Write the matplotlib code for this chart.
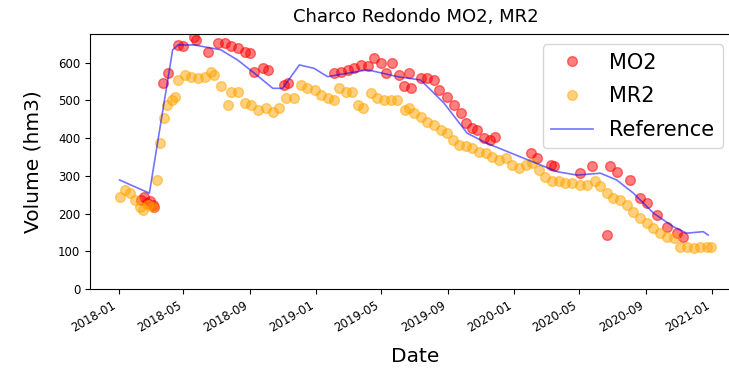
"""Charco Redondo reservoir volume: MO2 and MR2 estimates against the reference series."""

import matplotlib
matplotlib.use("Agg")
import matplotlib.dates as mdates
import matplotlib.pyplot as plt
import pandas as pd

REF_DATES = [
    "2018-01-03", "2018-02-27", "2018-04-11", "2018-04-21", "2018-05-21",
    "2018-07-09", "2018-08-09", "2018-09-09", "2018-10-13", "2018-10-31",
    "2018-12-01", "2018-12-28", "2019-01-22", "2019-04-06", "2019-05-31",
    "2019-07-13", "2019-08-25", "2019-10-07", "2019-11-13", "2020-01-19",
    "2020-03-21", "2020-04-27", "2020-06-09", "2020-07-09", "2020-08-09",
    "2020-09-15", "2020-10-22", "2020-11-15", "2020-12-16", "2020-12-25",
]
REF_VOL = [
    289, 254, 634, 647, 647,
    634, 607, 572, 532, 532,
    594, 585, 563, 581, 563,
    554, 493, 413, 386, 347,
    311, 302, 307, 289, 254,
    201, 165, 148, 152, 143,
]

MO2_DATES = [
    "2018-02-12", "2018-02-18", "2018-02-23", "2018-03-01", "2018-03-05",
    "2018-03-08", "2018-03-24", "2018-04-03", "2018-04-21", "2018-04-30",
    "2018-05-21", "2018-05-25", "2018-06-15", "2018-07-04", "2018-07-16",
    "2018-07-28", "2018-08-09", "2018-08-22", "2018-08-31", "2018-09-09",
    "2018-09-25", "2018-10-04", "2018-11-03", "2018-11-10", "2019-02-03",
    "2019-02-16", "2019-02-28", "2019-03-12", "2019-03-25", "2019-04-06",
    "2019-04-18", "2019-04-30", "2019-05-10", "2019-05-22", "2019-06-03",
    "2019-06-12", "2019-06-22", "2019-06-25", "2019-07-13", "2019-07-25",
    "2019-08-07", "2019-08-16", "2019-08-31", "2019-09-12", "2019-09-25",
    "2019-10-04", "2019-10-16", "2019-10-26", "2019-11-07", "2019-11-19",
    "2019-11-28", "2020-02-01", "2020-02-13", "2020-03-09", "2020-03-15",
    "2020-05-03", "2020-05-24", "2020-06-21", "2020-06-27", "2020-07-09",
    "2020-08-03", "2020-08-21", "2020-09-03", "2020-09-21", "2020-10-10",
    "2020-10-28", "2020-11-09",
]
MO2_VOL = [
    236, 244, 228, 232, 222,
    218, 546, 572, 647, 643,
    669, 660, 629, 652, 652,
    643, 638, 629, 625, 576,
    585, 581, 541, 546, 572,
    576, 581, 585, 594, 590,
    612, 599, 572, 599, 568,
    537, 572, 532, 559, 559,
    554, 528, 510, 488, 466,
    440, 426, 422, 399, 395,
    404, 360, 347, 329, 325,
    307, 325, 143, 325, 311,
    289, 240, 227, 196, 165,
    148, 139,
]

MR2_DATES = [
    "2018-01-03", "2018-01-13", "2018-01-22", "2018-01-31", "2018-02-09",
    "2018-02-15", "2018-02-25", "2018-03-06", "2018-03-14", "2018-03-18",
    "2018-03-26", "2018-04-01", "2018-04-09", "2018-04-16", "2018-04-21",
    "2018-05-03", "2018-05-15", "2018-05-28", "2018-06-09", "2018-06-21",
    "2018-06-27", "2018-07-10", "2018-07-22", "2018-07-28", "2018-08-09",
    "2018-08-22", "2018-09-03", "2018-09-15", "2018-10-01", "2018-10-13",
    "2018-10-25", "2018-11-06", "2018-11-22", "2018-12-04", "2018-12-16",
    "2018-12-29", "2019-01-10", "2019-01-22", "2019-02-03", "2019-02-13",
    "2019-02-25", "2019-03-09", "2019-03-19", "2019-03-28", "2019-04-12",
    "2019-04-24", "2019-05-07", "2019-05-19", "2019-05-31", "2019-06-15",
    "2019-06-21", "2019-07-01", "2019-07-13", "2019-07-25", "2019-08-07",
    "2019-08-19", "2019-08-31", "2019-09-10", "2019-09-22", "2019-10-04",
    "2019-10-16", "2019-10-29", "2019-11-10", "2019-11-22", "2019-12-04",
    "2019-12-17", "2019-12-29", "2020-01-10", "2020-01-23", "2020-02-04",
    "2020-02-16", "2020-02-28", "2020-03-12", "2020-03-24", "2020-04-05",
    "2020-04-18", "2020-05-03", "2020-05-15", "2020-05-30", "2020-06-09",
    "2020-06-21", "2020-07-03", "2020-07-16", "2020-07-28", "2020-08-09",
    "2020-08-21", "2020-09-03", "2020-09-15", "2020-09-27", "2020-10-10",
    "2020-10-22", "2020-11-03", "2020-11-15", "2020-11-28", "2020-12-10",
    "2020-12-22", "2020-12-31",
]
MR2_VOL = [
    245, 263, 254, 236, 218,
    210, 223, 218, 289, 387,
    453, 488, 501, 510, 554,
    568, 563, 559, 563, 576,
    568, 537, 488, 523, 523,
    493, 488, 475, 479, 470,
    479, 506, 506, 541, 532,
    528, 515, 506, 501, 532,
    523, 523, 488, 479, 519,
    506, 501, 501, 501, 475,
    479, 466, 457, 444, 435,
    422, 413, 395, 382, 378,
    373, 364, 360, 351, 342,
    347, 329, 320, 329, 334,
    316, 298, 285, 285, 280,
    280, 276, 276, 285, 272,
    254, 240, 236, 223, 205,
    187, 174, 161, 148, 139,
    135, 112, 112, 108, 112,
    112, 112,
]


def main() -> None:
    fig = plt.figure(figsize=(7.29, 3.76), dpi=100)
    # axes run slightly past the right edge of the canvas
    ax = fig.add_axes([90 / 729, 1 - 289 / 376, 651 / 729, 255 / 376])

    ax.plot(pd.to_datetime(MO2_DATES), MO2_VOL, "o", color="red", alpha=0.5,
            markersize=7, label="MO2")
    ax.plot(pd.to_datetime(MR2_DATES), MR2_VOL, "o", color="orange", alpha=0.5,
            markersize=7, label="MR2")
    ax.plot(pd.to_datetime(REF_DATES), REF_VOL, "-", color="blue", alpha=0.55,
            linewidth=1.2, label="Reference")

    ax.set_ylim(0, 676)
    ax.xaxis.set_major_locator(mdates.MonthLocator(bymonth=[1, 5, 9]))
    ax.xaxis.set_major_formatter(mdates.DateFormatter("%Y-%m"))
    for lbl in ax.get_xticklabels():
        lbl.set_rotation(30)
        lbl.set_ha("right")
    ax.tick_params(labelsize=8.5)

    ax.set_title("Charco Redondo MO2, MR2", fontsize=13, pad=9)
    ax.set_xlabel("Date", fontsize=14.5, labelpad=9)
    ax.set_ylabel("Volume (hm3)", fontsize=14.5, labelpad=11)
    ax.legend(loc="upper right", bbox_to_anchor=(0.988, 1), fontsize=15,
              labelspacing=0.65)

    fig.savefig("out.png", dpi=100)


if __name__ == "__main__":
    main()
